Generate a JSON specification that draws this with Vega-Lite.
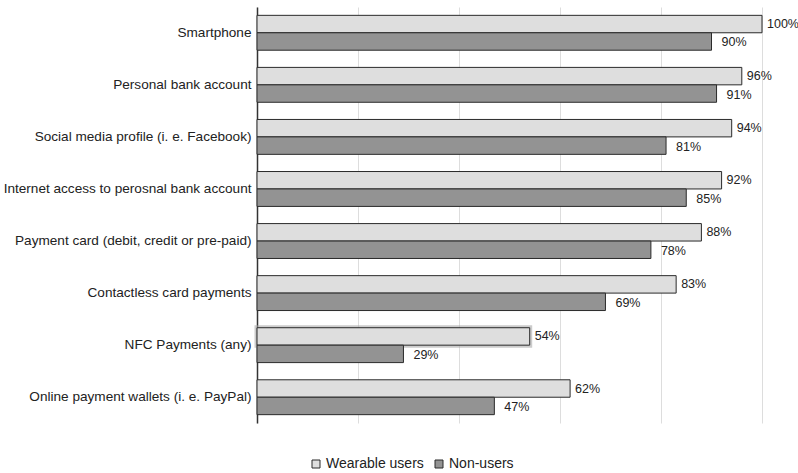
{
  "$schema": "https://vega.github.io/schema/vega-lite/v6.json",
  "autosize": "none",
  "width": 505,
  "height": 416,
  "padding": {"left": 257, "top": 7, "right": 36, "bottom": 50},
  "background": "white",
  "config": {
    "font": "Liberation Sans",
    "view": {"stroke": null}
  },
  "data": {
    "values": [
      {"item": "Smartphone", "group": "Wearable users", "value": 1.00},
      {"item": "Smartphone", "group": "Non-users", "value": 0.90},
      {"item": "Personal bank account", "group": "Wearable users", "value": 0.96},
      {"item": "Personal bank account", "group": "Non-users", "value": 0.91},
      {"item": "Social media profile (i. e. Facebook)", "group": "Wearable users", "value": 0.94},
      {"item": "Social media profile (i. e. Facebook)", "group": "Non-users", "value": 0.81},
      {"item": "Internet access to perosnal bank account", "group": "Wearable users", "value": 0.92},
      {"item": "Internet access to perosnal bank account", "group": "Non-users", "value": 0.85},
      {"item": "Payment card (debit, credit or pre-paid)", "group": "Wearable users", "value": 0.88},
      {"item": "Payment card (debit, credit or pre-paid)", "group": "Non-users", "value": 0.78},
      {"item": "Contactless card payments", "group": "Wearable users", "value": 0.83},
      {"item": "Contactless card payments", "group": "Non-users", "value": 0.69},
      {"item": "NFC Payments (any)", "group": "Wearable users", "value": 0.54},
      {"item": "NFC Payments (any)", "group": "Non-users", "value": 0.29},
      {"item": "Online payment wallets (i. e. PayPal)", "group": "Wearable users", "value": 0.62},
      {"item": "Online payment wallets (i. e. PayPal)", "group": "Non-users", "value": 0.47}
    ]
  },
  "encoding": {
    "y": {
      "field": "item",
      "type": "nominal",
      "sort": [
        "Smartphone",
        "Personal bank account",
        "Social media profile (i. e. Facebook)",
        "Internet access to perosnal bank account",
        "Payment card (debit, credit or pre-paid)",
        "Contactless card payments",
        "NFC Payments (any)",
        "Online payment wallets (i. e. PayPal)"
      ],
      "scale": {"paddingInner": 0.33, "paddingOuter": 0.16},
      "axis": {
        "title": null,
        "ticks": false,
        "labelFontSize": 13.6,
        "labelColor": "#222",
        "labelPadding": 6,
        "domainColor": "#333",
        "domainWidth": 1.5,
        "labelLimit": 300
      }
    },
    "yOffset": {
      "field": "group",
      "type": "nominal",
      "sort": ["Wearable users", "Non-users"]
    },
    "x": {
      "field": "value",
      "type": "quantitative",
      "scale": {"domain": [0, 1], "nice": false, "zero": true},
      "axis": {
        "title": null,
        "labels": false,
        "ticks": false,
        "domain": false,
        "grid": true,
        "gridColor": "#dddddd",
        "gridWidth": 1,
        "values": [0, 0.2, 0.4, 0.6, 0.8, 1.0]
      }
    }
  },
  "layer": [
    {
      "transform": [{"filter": "datum.group === 'Wearable users' && datum.item === 'NFC Payments (any)'"}],
      "mark": {"type": "bar", "fill": "#ffffff", "stroke": "#aaaaaa", "strokeWidth": 5, "strokeOpacity": 0.6}
    },
    {
      "mark": {"type": "bar", "stroke": "#2a2a2a", "strokeWidth": 1},
      "encoding": {
        "color": {
          "field": "group",
          "type": "nominal",
          "sort": ["Wearable users", "Non-users"],
          "scale": {"domain": ["Wearable users", "Non-users"], "range": ["#dedede", "#939393"]},
          "legend": {
            "title": null,
            "orient": "none",
            "legendX": 52,
            "legendY": 450,
            "direction": "horizontal",
            "symbolType": "square",
            "symbolSize": 64,
            "symbolStrokeColor": "#2a2a2a",
            "symbolStrokeWidth": 1,
            "labelFontSize": 14,
            "labelColor": "#222",
            "labelOffset": 3,
            "columnPadding": 8
          }
        }
      }
    },
    {
      "transform": [{"filter": "datum.group === 'Wearable users'"}],
      "mark": {"type": "text", "align": "left", "baseline": "middle", "dx": 5, "fontSize": 12.5, "color": "#222"},
      "encoding": {
        "text": {"field": "value", "type": "quantitative", "format": ".0%"}
      }
    },
    {
      "transform": [{"filter": "datum.group === 'Non-users'"}],
      "mark": {"type": "text", "align": "left", "baseline": "middle", "dx": 10, "dy": 1, "fontSize": 12.5, "color": "#222"},
      "encoding": {
        "text": {"field": "value", "type": "quantitative", "format": ".0%"}
      }
    }
  ]
}
